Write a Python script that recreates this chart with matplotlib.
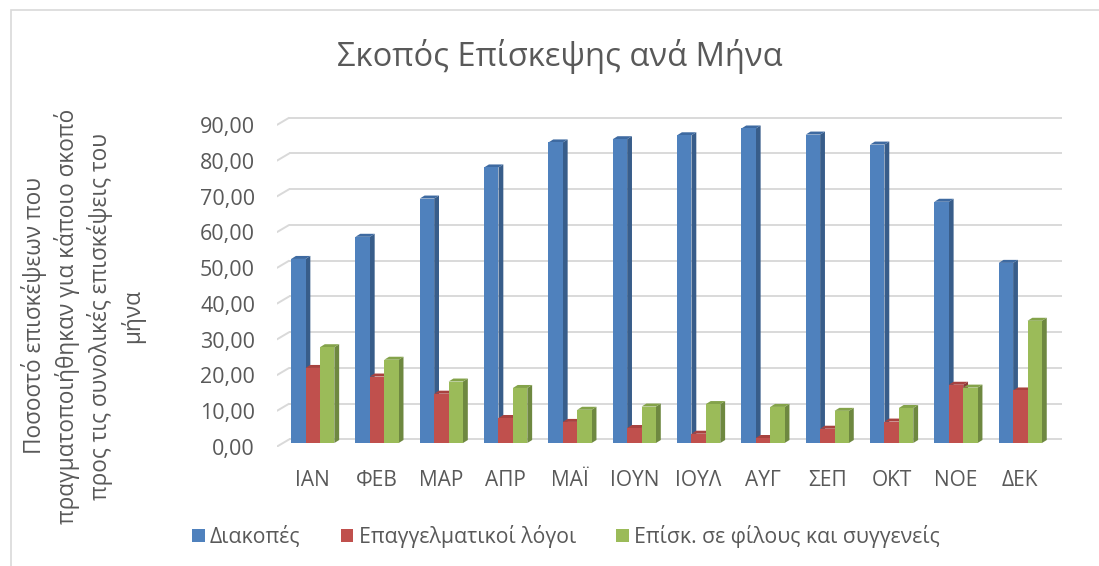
import numpy as np
import matplotlib
matplotlib.use("Agg")
import matplotlib.pyplot as plt
from matplotlib.patches import Polygon, Patch, Rectangle

plt.rcParams['font.family'] = ['Open Sans', 'DejaVu Sans']

months = ["ΙΑΝ", "ΦΕΒ", "ΜΑΡ", "ΑΠΡ", "ΜΑΪ", "ΙΟΥΝ", "ΙΟΥΛ", "ΑΥΓ", "ΣΕΠ", "ΟΚΤ", "ΝΟΕ", "ΔΕΚ"]
diakopes = [51.5, 57.7, 68.4, 77.1, 84.1, 85.0, 86.1, 88.0, 86.3, 83.5, 67.5, 50.4]
epaggelmatikoi = [21.0, 18.6, 13.8, 7.0, 5.9, 4.2, 2.6, 1.4, 4.0, 6.0, 16.3, 14.7]
filoi = [26.8, 23.3, 17.2, 15.4, 9.3, 10.2, 10.9, 10.1, 9.0, 9.8, 15.5, 34.2]
grid_vals = np.arange(0, 91, 10)

series = [
    ("Διακοπές", diakopes, "#4F81BD", "#385D8A", "#3E6AA1"),
    ("Επαγγελματικοί λόγοι", epaggelmatikoi, "#C0504D", "#8C3A38", "#A8423F"),
    ("Επίσκ. σε φίλους και συγγενείς", filoi, "#9BBB59", "#6E8840", "#84A34A"),
]

txt = "#595959"
W, H = 1099, 566
fig = plt.figure(figsize=(W / 100, H / 100), dpi=100)

# plot area in pixels (left, top, right, bottom)
pl, pt, pr, pb = 276.7, 114.2, 1062, 447.3
ax = fig.add_axes([pl / W, 1 - pb / H, (pr - pl) / W, (pb - pt) / H])
x0, x1 = -0.56, 11.648
ax.set_xlim(x0, x1)
ax.set_ylim(-1.2, 92)
for s in ax.spines.values():
    s.set_visible(False)

# 3d depth offsets
d = 1.04
xback = -0.364
for v in grid_vals:
    ax.plot([x0, xback], [v - d, v + d], color="#d9d9d9", lw=1.4, zorder=0, solid_capstyle="butt")
    ax.plot([xback, x1], [v + d, v + d], color="#d9d9d9", lw=1.4, zorder=0, solid_capstyle="butt")

bw = 0.224
dx, dy = 0.075, 0.84
x = np.arange(len(months))
for k, (name, vals, cf, cs, ct) in enumerate(series):
    off = (k - 1) * bw
    for i, h in enumerate(vals):
        a = x[i] + off - bw / 2
        b = a + bw
        z = 2 + k
        ax.add_patch(Polygon([(b, 0), (b, h), (b + dx, h + dy), (b + dx, dy)], closed=True,
                             facecolor=cs, edgecolor="none", zorder=z))
        ax.add_patch(Polygon([(a, h), (b, h), (b + dx, h + dy), (a + dx, h + dy)], closed=True,
                             facecolor=ct, edgecolor="none", zorder=z))
    ax.bar(x + off, vals, width=bw, color=cf, edgecolor="none", zorder=2 + k)

ax.set_yticks(grid_vals - d)
ax.set_yticklabels([f"{v:.2f}".replace(".", ",") for v in grid_vals])
ax.set_xticks(x)
ax.set_xticklabels(months)
ax.tick_params(axis="y", length=0, pad=15.6, labelsize=15.5, labelcolor=txt)
ax.tick_params(axis="x", length=0, pad=16, labelsize=15, labelcolor=txt)

fig.text(560 / W, 1 - 56 / H, "Σκοπός Επίσκεψης ανά Μήνα", ha="center", va="center",
         fontsize=23.5, color=txt)
fig.text(83 / W, 1 - 316 / H,
         "Ποσοστό επισκέψεων που\nπραγματοποιήθηκαν για κάποιο σκοπό\nπρος τις συνολικές επισκέψεις του\nμήνα",
         rotation=90, ha="center", va="center", multialignment="center",
         fontsize=16.3, color=txt, linespacing=1.36)

handles = [Patch(facecolor=s[2], edgecolor="none", label=s[0]) for s in series]
fig.legend(handles=handles, loc="center", bbox_to_anchor=(566 / W, 1 - 536.5 / H), ncol=3,
           frameon=False, fontsize=15.3, labelcolor=txt, handlelength=0.6, handleheight=0.6,
           handletextpad=0.25, columnspacing=1.9, borderaxespad=0)

# chart border (only left and top edges are visible in the crop)
fig.add_artist(Rectangle((10.5 / W, -0.05), 1.2, 1.05 - 10.5 / H, transform=fig.transFigure,
                         fill=False, edgecolor="#d9d9d9", lw=1.2))

fig.savefig("out.png", dpi=100)
